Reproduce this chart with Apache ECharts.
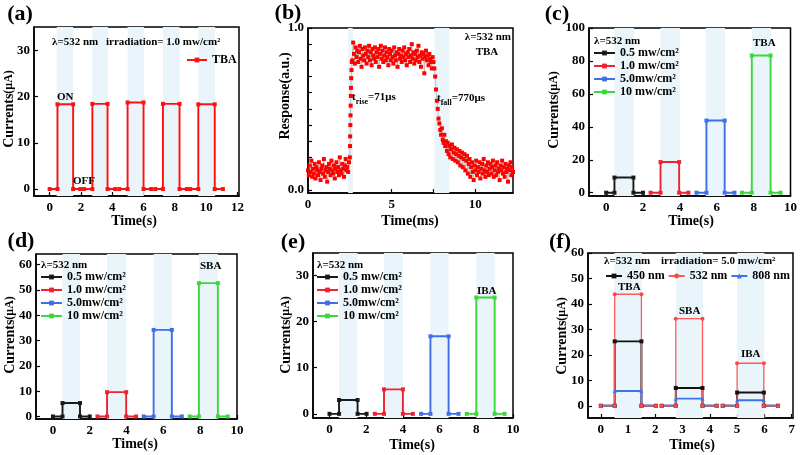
<!DOCTYPE html>
<html>
<head>
<meta charset="utf-8">
<script src="https://cdn.jsdelivr.net/npm/echarts@6/dist/echarts.min.js"></script>
<style>html,body{margin:0;padding:0;background:#fff}#c{width:800px;height:455px}</style>
</head>
<body>
<div id="c"></div>
<script>
// ---------- DATA ----------
// square-wave traces: [start, lightOn, lightOff, end, onLevel]
const aTraces = [[0,0.5,1.5,1.96,18.3],[2.2,2.73,3.7,4.19,18.4],[4.45,4.98,6.0,6.49,18.7],[6.75,7.24,8.3,8.77,18.4],[8.98,9.5,10.55,11.07,18.3]];
const aShades = [[0.45,1.5],[2.73,3.72],[4.98,6.02],[7.24,8.3],[9.5,10.58]];

const cTraces = {'0.5 mw/cm²':[0,0.45,1.48,2.0,9.2],'1.0 mw/cm²':[2.41,2.95,3.96,4.46,18.6],'5.0mw/cm²':[4.9,5.44,6.43,6.96,43.8],'10 mw/cm²':[7.37,7.9,8.92,9.46,83.3]};
const cShades = [[0.45,1.5],[2.95,4.0],[5.4,6.45],[7.9,8.95]];
const dTraces = {'0.5 mw/cm²':[0,0.52,1.47,2.0,5.3],'1.0 mw/cm²':[2.42,2.94,3.98,4.52,9.6],'5.0mw/cm²':[4.93,5.47,6.46,7.0,34.2],'10 mw/cm²':[7.43,7.93,8.96,9.5,52.7]};
const dShades = [[0.52,1.47],[2.94,3.98],[5.47,6.46],[7.93,8.96]];
const eTraces = {'0.5 mw/cm²':[0,0.52,1.53,2.02,3.0],'1.0 mw/cm²':[2.47,2.97,4.0,4.54,5.3],'5.0mw/cm²':[4.99,5.5,6.49,7.03,16.8],'10 mw/cm²':[7.48,8.0,9.0,9.54,25.2]};
const eShades = [[0.52,1.53],[2.97,4.0],[5.5,6.49],[8.0,9.0]];

const fTiming = [[0,0.51,1.49,2.02],[2.23,2.75,3.73,4.25],[4.47,5.0,5.98,6.5]];
const f450 = [25.3, 7.0, 5.2];
const f532 = [43.8, 34.2, 16.7];
const f808 = [5.8, 2.8, 2.2];
const fShades = [[0.5,1.5],[2.75,3.75],[5.0,6.0]];

const bShades = [[2.4,2.68],[7.55,8.45]];
// normalized response [time (ms), response]
const responseData = [
[0.00,0.12],[0.05,0.09],[0.10,0.15],[0.15,0.11],[0.20,0.18],[0.25,0.08],[0.30,0.13],[0.35,0.10],[0.40,0.16],[0.45,0.07],
[0.50,0.14],[0.55,0.12],[0.60,0.09],[0.65,0.17],[0.70,0.11],[0.75,0.06],[0.80,0.13],[0.85,0.15],[0.90,0.10],[0.95,0.19],
[1.00,0.08],[1.05,0.12],[1.10,0.14],[1.15,0.05],[1.20,0.11],[1.25,0.16],[1.30,0.13],[1.35,0.09],[1.40,0.18],[1.45,0.12],
[1.50,0.10],[1.55,0.15],[1.60,0.07],[1.65,0.13],[1.70,0.17],[1.75,0.11],[1.80,0.14],[1.85,0.09],[1.90,0.20],[1.95,0.12],
[2.00,0.10],[2.05,0.16],[2.10,0.13],[2.15,0.08],[2.20,0.15],[2.25,0.19],[2.30,0.12],[2.35,0.14],[2.40,0.11],[2.45,0.17],
[2.50,0.20],[2.51,0.27],[2.52,0.33],[2.53,0.40],[2.54,0.46],[2.55,0.52],[2.56,0.58],[2.57,0.63],[2.58,0.69],[2.60,0.74],[2.62,0.79],
[2.65,0.80],[2.70,0.91],[2.75,0.84],[2.80,0.78],[2.85,0.88],[2.90,0.82],[2.95,0.86],[3.00,0.79],[3.05,0.85],[3.10,0.89],
[3.15,0.81],[3.20,0.76],[3.25,0.87],[3.30,0.83],[3.35,0.80],[3.40,0.88],[3.45,0.84],[3.50,0.78],[3.55,0.86],[3.60,0.82],
[3.65,0.89],[3.70,0.80],[3.75,0.85],[3.80,0.77],[3.85,0.87],[3.90,0.83],[3.95,0.81],[4.00,0.88],[4.05,0.79],[4.10,0.85],
[4.15,0.82],[4.20,0.87],[4.25,0.76],[4.30,0.84],[4.35,0.89],[4.40,0.81],[4.45,0.86],[4.50,0.79],[4.55,0.83],[4.60,0.88],
[4.65,0.80],[4.70,0.85],[4.75,0.82],[4.80,0.77],[4.85,0.87],[4.90,0.84],[4.95,0.80],[5.00,0.86],[5.05,0.82],[5.10,0.78],
[5.15,0.88],[5.20,0.83],[5.25,0.80],[5.30,0.85],[5.35,0.76],[5.40,0.84],[5.45,0.87],[5.50,0.81],[5.55,0.83],[5.60,0.79],
[5.65,0.86],[5.70,0.82],[5.75,0.88],[5.80,0.80],[5.85,0.84],[5.90,0.77],[5.95,0.85],[6.00,0.82],[6.05,0.87],[6.10,0.79],
[6.15,0.83],[6.20,0.90],[6.25,0.81],[6.30,0.85],[6.35,0.78],[6.40,0.84],[6.45,0.80],[6.50,0.86],[6.55,0.82],[6.60,0.89],
[6.65,0.79],[6.70,0.83],[6.75,0.76],[6.80,0.85],[6.85,0.81],[6.90,0.84],[6.95,0.72],[7.00,0.82],[7.05,0.86],[7.10,0.80],
[7.15,0.83],[7.20,0.77],[7.25,0.84],[7.30,0.81],[7.35,0.79],[7.40,0.75],[7.45,0.82],
[7.50,0.79],[7.55,0.75],[7.60,0.70],[7.65,0.62],[7.70,0.55],[7.75,0.50],[7.80,0.44],[7.85,0.41],[7.90,0.37],[7.95,0.34],
[8.00,0.38],[8.05,0.31],[8.10,0.29],[8.15,0.34],[8.20,0.27],[8.25,0.30],[8.30,0.24],[8.35,0.29],[8.40,0.22],[8.45,0.27],
[8.50,0.20],[8.55,0.25],[8.60,0.28],[8.65,0.19],[8.70,0.23],[8.75,0.26],[8.80,0.18],[8.85,0.22],[8.90,0.25],[8.95,0.17],
[9.00,0.21],[9.05,0.24],[9.10,0.15],[9.15,0.20],[9.20,0.23],[9.25,0.14],[9.30,0.19],[9.35,0.22],[9.40,0.12],[9.45,0.18],
[9.50,0.21],[9.55,0.10],[9.60,0.16],[9.65,0.19],[9.70,0.08],[9.75,0.14],[9.80,0.17],[9.85,0.11],[9.90,0.06],[9.95,0.15],
[10.00,0.12],[10.05,0.18],[10.10,0.09],[10.15,0.14],[10.20,0.11],[10.25,0.17],[10.30,0.07],[10.35,0.13],[10.40,0.16],[10.45,0.10],
[10.50,0.19],[10.55,0.12],[10.60,0.08],[10.65,0.15],[10.70,0.11],[10.75,0.17],[10.80,0.09],[10.85,0.13],[10.90,0.16],[10.95,0.10],
[11.00,0.14],[11.05,0.18],[11.10,0.08],[11.15,0.12],[11.20,0.15],[11.25,0.09],[11.30,0.17],[11.35,0.11],[11.40,0.13],[11.45,0.06],
[11.50,0.15],[11.55,0.12],[11.60,0.18],[11.65,0.10],[11.70,0.14],[11.75,0.08],[11.80,0.16],[11.85,0.11],[11.90,0.13],[11.95,0.05],
[12.00,0.15],[12.05,0.12],[12.10,0.17],[12.15,0.09],[12.20,0.14],[12.25,0.11]
];

// tick labels
const xTicksA = [0,2,4,6,8,10,12];
const xTicksB = [0,5,10];
const xMinorB = [0,2.5,5,7.5,10];
const xTicksCDE = [0,2,4,6,8,10];
const xTicksF = [0,1,2,3,4,5,6,7];
const yTicksA = [0,10,20,30];
const yTicksB = [0,1];
const yMinorB = [0,0.1,0.2,0.3,0.4,0.5,0.6,0.7,0.8,0.9,1.0];
const yTicksC = [0,20,40,60,80,100];
const yTicksD = [0,10,20,30,40,50,60];
const yTicksE = [0,10,20,30];
const yTicksF = [0,10,20,30,40,50,60];

// ---------- STYLE / BUILD ----------
const FONT = '"Liberation Serif","Times New Roman",serif';
const COLORS = {'0.5 mw/cm²':'#1a1a1a','1.0 mw/cm²':'#ee2233','5.0mw/cm²':'#3d6fe6','10 mw/cm²':'#3ad83a'};
const SHADE = '#eaf5fb';

const gridPos = [
  {left:34, top:27, width:205, height:169},
  {left:308, top:28, width:205, height:165},
  {left:589, top:28, width:204, height:168},
  {left:36, top:254, width:201, height:165},
  {left:313, top:253, width:200, height:165},
  {left:588, top:253, width:205, height:165}
];
const grid = gridPos.map(g => Object.assign({show:true, borderColor:'#000', borderWidth:1.5, backgroundColor:'transparent'}, g));

const labelStyle = {color:'#000', fontFamily:FONT, fontWeight:'bold', fontSize:13};
function axis(gi, min, max, labels, ticks, isX, fmt){
  return {
    type:'value', gridIndex:gi, min, max,
    axisLine:{show:true, onZero:false, lineStyle:{color:'#000', width:1.5}},
    axisTick:{show:true, inside:true, length:4, lineStyle:{color:'#000', width:1.2}, customValues: ticks || labels},
    axisLabel:Object.assign({margin:isX?5:4, customValues: labels, formatter: fmt || (v => String(v))}, labelStyle),
    splitLine:{show:false}
  };
}
const xAxis = [
  axis(0,-1,12.1,xTicksA,null,true),
  axis(1,0,12.25,xTicksB,xMinorB,true),
  axis(2,-0.93,10,xTicksCDE,null,true),
  axis(3,-0.92,10,xTicksCDE,null,true),
  axis(4,-0.9,10,xTicksCDE,null,true),
  axis(5,-0.47,7.05,xTicksF,null,true)
];
const yAxis = [
  axis(0,-1.5,35,yTicksA,null,false),
  axis(1,-0.02,1.0,yTicksB,yMinorB,false,v=>v.toFixed(1)),
  axis(2,-2,100,yTicksC,null,false),
  axis(3,-1,64.2,yTicksD,null,false),
  axis(4,-0.9,34.85,yTicksE,null,false),
  axis(5,-4.8,60,yTicksF,null,false)
];

function wave(t, level){
  const L = level === undefined ? t[4] : level;
  return [[t[0],0],[t[1],0],[t[1],L],[t[2],L],[t[2],0],[t[3],0]];
}
function trace(gi, name, color, data, opts){
  return Object.assign({
    type:'line', name, xAxisIndex:gi, yAxisIndex:gi, data,
    symbol:'rect', symbolSize:4, showAllSymbol:true,
    lineStyle:{color, width:1.9}, itemStyle:{color}, z:3, animation:false
  }, opts||{});
}
function shadeSeries(gi, shades){
  return {type:'line', xAxisIndex:gi, yAxisIndex:gi, data:[], z:1, animation:false,
    markArea:{silent:true, itemStyle:{color:SHADE, opacity:1}, data: shades.map(s => [{xAxis:s[0]},{xAxis:s[1]}])}};
}

const series = [];
series.push(shadeSeries(0, aShades));
aTraces.forEach(t => series.push(trace(0,'TBA','#ff1010',wave(t))));

series.push(shadeSeries(1, bShades));
series.push({type:'line', name:'response', xAxisIndex:1, yAxisIndex:1, data:responseData,
  symbol:'rect', symbolSize:4, showAllSymbol:true, z:3, animation:false,
  lineStyle:{color:'#9a9a9a', width:0.6}, itemStyle:{color:'#ff0000'}});

[[2,cTraces,cShades],[3,dTraces,dShades],[4,eTraces,eShades]].forEach(([gi,tr,sh]) => {
  series.push(shadeSeries(gi, sh));
  Object.keys(tr).forEach(n => series.push(trace(gi, n, COLORS[n], wave(tr[n]))));
});

series.push(shadeSeries(5, fShades));
fTiming.forEach((t,i) => series.push(trace(5,'450 nm','#111111',wave(t,f450[i]),{symbol:'rect',symbolSize:4})));
fTiming.forEach((t,i) => series.push(trace(5,'808 nm','#3d74e8',wave(t,f808[i]),{symbol:'triangle',symbolSize:4})));
fTiming.forEach((t,i) => series.push(trace(5,'532 nm','#ff4545',wave(t,f532[i]),{symbol:'circle',symbolSize:4, lineStyle:{color:'#ff5a5a', width:1.3}})));

const legTxt = {color:'#000', fontFamily:FONT, fontWeight:'bold', fontSize:12};
const legBase = {selectedMode:false, padding:0, textStyle:legTxt, itemHeight:6};
const pw = ['0.5 mw/cm²','1.0 mw/cm²','5.0mw/cm²','10 mw/cm²'];
const legend = [
  Object.assign({}, legBase, {left:186, top:54, itemWidth:20, data:['TBA']}),
  Object.assign({}, legBase, {left:593, top:47, orient:'vertical', itemWidth:21, itemGap:1, data:pw}),
  Object.assign({}, legBase, {left:40, top:271, orient:'vertical', itemWidth:21, itemGap:1, data:pw}),
  Object.assign({}, legBase, {left:316, top:271, orient:'vertical', itemWidth:21, itemGap:1, data:pw}),
  Object.assign({}, legBase, {left:605, top:270, itemWidth:16, itemGap:3, data:['450 nm','532 nm','808 nm']})
];

function txt(x, y, text, size, align, extra){
  return Object.assign({type:'text', x, y, z:10, style:{text, font:'bold '+size+'px '+FONT, fill:'#000',
    textAlign:align||'left', align:align||'left', textVerticalAlign:'middle', verticalAlign:'middle'}}, extra||{});
}
function richTxt(x, y, text, rich, align, rotation){
  const g = {type:'text', x, y, z:10, style:{text, rich, fill:'#000', font:'bold 14px '+FONT,
    textAlign:align||'left', align:align||'left', textVerticalAlign:'middle', verticalAlign:'middle'}};
  if (rotation) g.rotation = rotation;
  return g;
}
const yNameRich = {a:{fontFamily:FONT, fontWeight:'bold', fontSize:14, fill:'#000', color:'#000'}, b:{fontFamily:FONT, fontWeight:'bold', fontSize:12, fill:'#000', color:'#000'}};
const subRich = {t:{fontFamily:FONT, fontWeight:'bold', fontSize:11, lineHeight:18, color:'#000', fill:'#000'}, s:{fontFamily:FONT, fontWeight:'bold', fontSize:8, lineHeight:18, verticalAlign:'bottom', color:'#000', fill:'#000'}};

const graphic = [
  txt(20,14,'(a)',22,'center'), txt(288,13,'(b)',22,'center'), txt(557,14,'(c)',22,'center'),
  txt(21,241,'(d)',22,'center'), txt(293,242,'(e)',22,'center'), txt(560,242,'(f)',22,'center'),
  // axis names
  richTxt(9,109,'{a|Currents}{b|(μA)}',yNameRich,'center',Math.PI/2),
  richTxt(285,96,'{a|Response(a.u.)}',yNameRich,'center',Math.PI/2),
  richTxt(554,110,'{a|Currents}{b|(μA)}',yNameRich,'center',Math.PI/2),
  richTxt(10,335,'{a|Currents}{b|(μA)}',yNameRich,'center',Math.PI/2),
  richTxt(286,335,'{a|Currents}{b|(μA)}',yNameRich,'center',Math.PI/2),
  richTxt(562,336,'{a|Currents}{b|(μA)}',yNameRich,'center',Math.PI/2),
  txt(134,221,'Time(s)',14,'center'), txt(410,221,'Time(ms)',14,'center'), txt(691,221,'Time(s)',14,'center'),
  txt(135,444,'Time(s)',14,'center'), txt(412,445,'Time(s)',14,'center'), txt(692,445,'Time(s)',14,'center'),
  // annotations
  txt(52,42,'λ=532 nm',11), txt(106,42,'irradiation= 1.0 mw/cm²',11),
  txt(57,97,'ON',11), txt(73,181,'OFF',11),
  txt(511,37,'λ=532 nm',11,'right'), txt(487,52,'TBA',11,'center'),
  richTxt(352,97,'{t|t}{s|rise}{t|=71μs}',subRich,'left'),
  richTxt(437,98,'{t|t}{s|fall}{t|=770μs}',subRich,'left'),
  txt(594,41,'λ=532 nm',11), txt(753,43,'TBA',11),
  txt(41,265,'λ=532 nm',11), txt(200,266,'SBA',11),
  txt(317,265,'λ=532 nm',11), txt(477,291,'IBA',11),
  txt(604,261,'λ=532 nm',11), txt(661,261,'irradiation= 5.0 mw/cm²',11),
  txt(618,287,'TBA',11), txt(679,311,'SBA',11), txt(741,354,'IBA',11)
];

const chart = echarts.init(document.getElementById('c'), null, {renderer:'canvas'});
chart.setOption({backgroundColor:'#fff', animation:false, grid, xAxis, yAxis, series, legend, graphic});
</script>
</body>
</html>
